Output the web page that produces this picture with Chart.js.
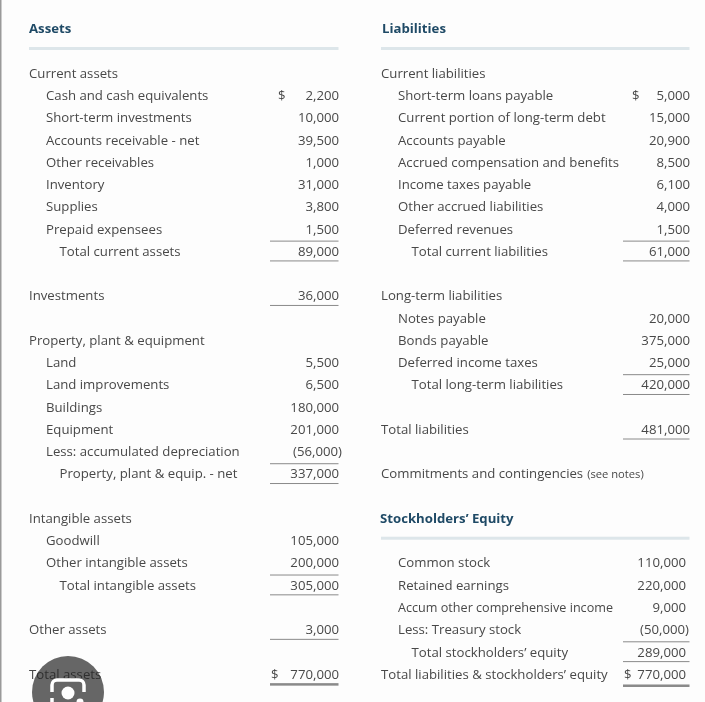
<!DOCTYPE html>
<html>
<head>
<meta charset="utf-8">
<style>
  html, body { margin: 0; padding: 0; background: #fdfdfd; overflow: hidden; }
  canvas { display: block; filter: blur(0.6px); }
</style>
<script src="https://cdn.jsdelivr.net/npm/chart.js@4"></script>
</head>
<body>
<canvas id="sheet" width="705" height="702"></canvas>
<script>
// table rows, index = row number, null = empty row
const assetLabels = [
  'Current assets', 'Cash and cash equivalents', 'Short-term investments', 'Accounts receivable - net',
  'Other receivables', 'Inventory', 'Supplies', 'Prepaid expensees', 'Total current assets', null,
  'Investments', null, 'Property, plant & equipment', 'Land', 'Land improvements', 'Buildings',
  'Equipment', 'Less: accumulated depreciation', 'Property, plant & equip. - net', null,
  'Intangible assets', 'Goodwill', 'Other intangible assets', 'Total intangible assets', null,
  'Other assets', null, 'Total assets'
];
const assetValues = [
  null, 2200, 10000, 39500, 1000, 31000, 3800, 1500, 89000, null,
  36000, null, null, 5500, 6500, 180000, 201000, -56000, 337000, null,
  null, 105000, 200000, 305000, null, 3000, null, 770000
];
const assetIndents = [0, 1, 1, 1, 1, 1, 1, 1, 2, 0, 0, 0, 0, 1, 1, 1, 1, 1, 2, 0, 0, 1, 1, 2, 0, 0, 0, 0];

const liabilityLabels = [
  'Current liabilities', 'Short-term loans payable', 'Current portion of long-term debt', 'Accounts payable',
  'Accrued compensation and benefits', 'Income taxes payable', 'Other accrued liabilities', 'Deferred revenues',
  'Total current liabilities', null, 'Long-term liabilities', 'Notes payable', 'Bonds payable',
  'Deferred income taxes', 'Total long-term liabilities', null, 'Total liabilities', null,
  'Commitments and contingencies', null, null, null, 'Common stock', 'Retained earnings',
  'Accum other comprehensive income', 'Less: Treasury stock', 'Total stockholders’ equity',
  'Total liabilities & stockholders’ equity'
];
const liabilityValues = [
  null, 5000, 15000, 20900, 8500, 6100, 4000, 1500, 61000, null,
  null, 20000, 375000, 25000, 420000, null, 481000, null,
  null, null, null, null, 110000, 220000, 9000, -50000, 289000, 770000
];
const liabilityIndents = [0, 1, 1, 1, 1, 1, 1, 1, 2, 0, 0, 1, 1, 1, 2, 0, 0, 0, 0, 0, 0, 0, 1, 1, 1, 1, 2, 0];

const headings = ['Assets', 'Liabilities', 'Stockholders’ Equity'];
const headingRows = [-2, -2, 20];
const dollarRows = [1, 27];
const noteRow = 18;
const noteText = '(see notes)';

// rows with a rule above them / below them / heavy double rule below
const assetRuleAbove = [8, 18, 23];
const assetRuleBelow = [8, 10, 18, 23, 25];
const assetDoubleBelow = [27];
const liabilityRuleAbove = [8, 14, 26];
const liabilityRuleBelow = [8, 14, 16, 26];
const liabilityDoubleBelow = [27];

// layout
const font = '13.2px "Open Sans"';
const boldFont = 'bold 13.2px "Open Sans"';
const textColor = '#484848';
const ruleColor = '#8a8a8a';
const textDrop = 1;
const indentPx = [0, 17, 30.5];
const leftCol = { label: 29, value: 339, ruleFrom: 270, ruleTo: 338.5, dollar: 278, dollarLast: 271 };
const rightCol = { label: 381, value: 690, ruleFrom: 623, ruleTo: 689.5, dollar: 632, dollarLast: 624 };

function money(v) {
  const s = Math.abs(v).toLocaleString('en-US');
  return v < 0 ? '(' + s + ')' : s;
}

function points(list, x) {
  return list.map((v, i) => ({ x: x, y: i }));
}

const tablePlugin = {
  id: 'table',
  afterDatasetsDraw(chart) {
    const ctx = chart.ctx;
    const yScale = chart.scales.y;
    const xScale = chart.scales.x;
    ctx.save();
    ctx.textBaseline = 'middle';

    // headings and the pale bars under them
    headings.forEach((h, i) => {
      const col = i === 0 ? leftCol : rightCol;
      const y = yScale.getPixelForValue(headingRows[i]) + textDrop;
      ctx.font = boldFont;
      ctx.fillStyle = '#1f4a66';
      ctx.textAlign = 'left';
      ctx.fillText(h, xScale.getPixelForValue(i === 2 ? col.label - 1 : col.label + (i === 1 ? 1 : 0)), y);
      ctx.fillStyle = '#dde6ea';
      ctx.fillRect(col.label, yScale.getPixelForValue(headingRows[i] + 0.9) - 1.5, col.ruleTo - col.label, 3);
    });

    // camera button disc goes under the last label's dark copy
    const cx = xScale.getPixelForValue(68);
    const cy = yScale.getPixelForValue(27) + 18;

    // labels
    [[0, assetLabels, assetIndents], [2, liabilityLabels, liabilityIndents]].forEach(([ds, labels, indents]) => {
      ctx.font = font;
      ctx.fillStyle = textColor;
      ctx.textAlign = 'left';
      chart.getDatasetMeta(ds).data.forEach((pt, i) => {
        if (!labels[i]) return;
        // the "Accum other..." line is set tighter in the source
        const maxW = labels[i].startsWith('Accum') ? 215 : undefined;
        if (maxW) ctx.fillText(labels[i], pt.x + indentPx[indents[i]], pt.y + textDrop, maxW);
        else ctx.fillText(labels[i], pt.x + indentPx[indents[i]], pt.y + textDrop);
      });
    });

    // values, closing bracket hangs past the column edge
    [[1, assetValues, leftCol], [3, liabilityValues, rightCol]].forEach(([ds, values, col]) => {
      ctx.font = font;
      ctx.fillStyle = textColor;
      chart.getDatasetMeta(ds).data.forEach((pt, i) => {
        if (values[i] === null) return;
        let x = pt.x;
        if (col === rightCol && i >= 22) x -= 4;
        if (values[i] < 0) x += ctx.measureText(')').width - 1;
        ctx.textAlign = 'right';
        ctx.fillText(money(values[i]), x, pt.y + textDrop);
        if (dollarRows.includes(i)) {
          ctx.textAlign = 'left';
          ctx.fillText('$', i === 1 ? col.dollar : col.dollarLast, pt.y + textDrop);
        }
      });
    });

    // small note after the commitments line
    const noteY = yScale.getPixelForValue(noteRow) + textDrop;
    ctx.font = font;
    const noteX = rightCol.label + ctx.measureText(liabilityLabels[noteRow]).width + 4;
    ctx.font = '11.2px "Open Sans"';
    ctx.textAlign = 'left';
    ctx.fillText(noteText, noteX, noteY + 0.5);

    // rules
    ctx.fillStyle = ruleColor;
    const rule = (col, row, offset, h) => {
      ctx.fillRect(col.ruleFrom, yScale.getPixelForValue(row + offset), col.ruleTo - col.ruleFrom, h);
    };
    assetRuleAbove.forEach(r => rule(leftCol, r, -0.47, 1));
    assetRuleBelow.forEach(r => rule(leftCol, r, 0.42, 1));
    assetDoubleBelow.forEach(r => rule(leftCol, r, 0.41, 2.5));
    liabilityRuleAbove.forEach(r => rule(rightCol, r, -0.47, 1));
    liabilityRuleBelow.forEach(r => rule(rightCol, r, 0.42, 1));
    liabilityDoubleBelow.forEach(r => rule(rightCol, r, 0.47, 2.5));

    // camera button sitting on top of the screenshot, label shows through it
    ctx.fillStyle = '#666666';
    ctx.beginPath();
    ctx.arc(cx, cy, 36, 0, Math.PI * 2);
    ctx.fill();
    ctx.save();
    ctx.beginPath();
    ctx.arc(cx, cy, 36, 0, Math.PI * 2);
    ctx.clip();
    ctx.font = font;
    ctx.textAlign = 'left';
    ctx.fillStyle = '#2f2f2f';
    const lastRow = assetLabels.length - 1;
    const lastPt = chart.getDatasetMeta(0).data[lastRow];
    ctx.fillText(assetLabels[lastRow], lastPt.x, lastPt.y + textDrop);
    ctx.restore();

    ctx.strokeStyle = '#fff';
    ctx.lineWidth = 3.5;
    ctx.beginPath();
    ctx.moveTo(cx - 16, cy);
    ctx.lineTo(cx - 16, cy - 7);
    ctx.arcTo(cx - 16, cy - 12, cx - 11, cy - 12, 5);
    ctx.lineTo(cx + 11, cy - 12);
    ctx.arcTo(cx + 16, cy - 12, cx + 16, cy - 7, 5);
    ctx.lineTo(cx + 16, cy);
    ctx.moveTo(cx - 16, cy + 6);
    ctx.lineTo(cx - 16, cy + 12);
    ctx.stroke();
    ctx.fillStyle = '#fff';
    ctx.beginPath();
    ctx.arc(cx, cy + 1, 6.5, 0, Math.PI * 2);
    ctx.fill();
    ctx.beginPath();
    ctx.arc(cx + 12, cy + 10, 3.5, 0, Math.PI * 2);
    ctx.fill();

    // window edge on the far left
    ctx.fillStyle = '#9a9a9a';
    ctx.fillRect(0, 0, 1.5, chart.height);
    ctx.restore();
  }
};

const sheet = new Chart(document.getElementById('sheet'), {
  type: 'scatter',
  data: {
    datasets: [
      { label: 'Assets', data: points(assetLabels, leftCol.label), pointRadius: 0 },
      { label: 'Asset values', data: points(assetValues, leftCol.value), pointRadius: 0 },
      { label: 'Liabilities', data: points(liabilityLabels, rightCol.label), pointRadius: 0 },
      { label: 'Liability values', data: points(liabilityValues, rightCol.value), pointRadius: 0 }
    ]
  },
  plugins: [tablePlugin],
  options: {
    responsive: false,
    animation: false,
    layout: { padding: 0 },
    plugins: { legend: { display: false }, tooltip: { enabled: false } },
    scales: {
      x: { type: 'linear', display: false, min: 0, max: 705 },
      y: { type: 'linear', display: false, reverse: true, min: -3.279, max: 28.257 }
    }
  }
});
</script>
</body>
</html>
